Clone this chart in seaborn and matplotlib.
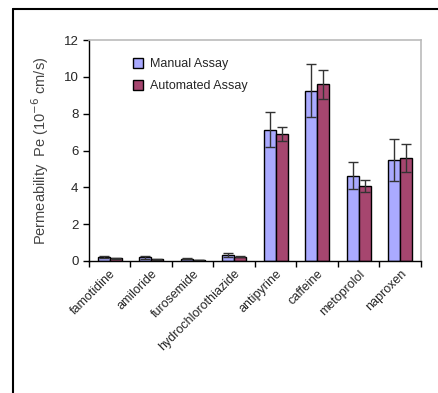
import numpy as np
import pandas as pd
import seaborn as sns
import matplotlib.pyplot as plt
from matplotlib.lines import Line2D

sns.set_style('white')
plt.rcParams['font.family'] = ['Liberation Sans', 'DejaVu Sans']

compounds = ['famotidine', 'amiloride', 'furosemide', 'hydrochlorothiazide',
             'antipyrine', 'caffeine', 'metoprolol', 'naproxen']
manual = [0.22, 0.20, 0.12, 0.30, 7.12, 9.26, 4.64, 5.47]
manual_err = [0.07, 0.09, 0.04, 0.11, 0.95, 1.43, 0.73, 1.15]
automated = [0.15, 0.10, 0.05, 0.22, 6.90, 9.60, 4.06, 5.60]
automated_err = [0.03, 0.03, 0.02, 0.03, 0.38, 0.78, 0.34, 0.78]

df = pd.DataFrame({
    'compound': compounds * 2,
    'Pe': manual + automated,
    'err': manual_err + automated_err,
    'assay': ['Manual Assay'] * 8 + ['Automated Assay'] * 8,
})

fig = plt.figure(figsize=(4.38, 3.93), dpi=100)
ax = fig.add_axes([0.203, 0.336, 0.758, 0.562])

pal = {'Manual Assay': '#AAAAFF', 'Automated Assay': '#A6466F'}
sns.barplot(data=df, x='compound', y='Pe', hue='assay', palette=pal,
            width=0.58, edgecolor='black', linewidth=1, saturation=1,
            errorbar=None, ax=ax)

# error bars on bar centres
for cont, (name, grp) in zip(ax.containers, df.groupby('assay', sort=False)):
    xs = [p.get_x() + p.get_width() / 2 for p in cont]
    ax.errorbar(xs, grp['Pe'], yerr=grp['err'], fmt='none', ecolor='#333333',
                elinewidth=1, capsize=3.6, capthick=1)

ax.set_ylim(0, 12)
ax.set_xlim(-0.5, 7.5)
ax.set_yticks(range(0, 13, 2))
ax.set_xticks(np.arange(-0.5, 8, 1), minor=True)
ax.tick_params(axis='x', which='major', length=0, labelsize=9, pad=5)
ax.tick_params(axis='x', which='minor', length=4, width=1, direction='out',
               color='black', bottom=True)
ax.tick_params(axis='y', length=4, width=1, direction='out', color='black',
               left=True, labelsize=9.5)
plt.setp(ax.get_xticklabels(), rotation=45, ha='right', rotation_mode='anchor')
ax.set_xlabel('')
ax.set_ylabel('Permeability  Pe (10$^{-6}$ cm/s)', fontsize=10.5, color='#444444',
              labelpad=9)

for s in ['left', 'bottom']:
    ax.spines[s].set_color('black')
    ax.spines[s].set_linewidth(1)
for s in ['top', 'right']:
    ax.spines[s].set_color('#BBBBBB')
    ax.spines[s].set_linewidth(1.2)

ax.legend(loc='upper left', bbox_to_anchor=(0.1, 0.97), frameon=False,
          fontsize=9, handlelength=0.8, handleheight=0.8, labelspacing=0.8,
          handletextpad=0.5)

# page border
fig.add_artist(Line2D([13 / 438, 13 / 438], [0, 1 - 9 / 393], color='black', lw=1.5))
fig.add_artist(Line2D([13 / 438, 1], [1 - 9 / 393, 1 - 9 / 393], color='black', lw=1.5))

plt.savefig('out.png', dpi=100, facecolor='w')
